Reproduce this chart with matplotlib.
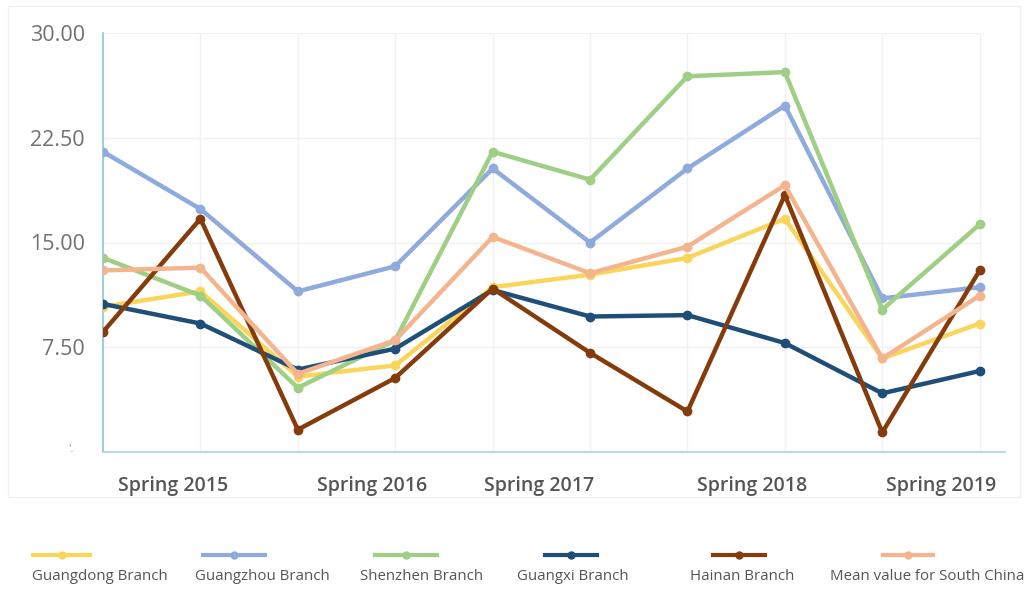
import matplotlib
matplotlib.use("Agg")
import matplotlib.pyplot as plt
from matplotlib.lines import Line2D
from matplotlib.patches import Rectangle

periods = list(range(10))
tick_positions = [0.72, 2.76, 4.48, 6.66, 8.6]
tick_labels = ["Spring 2015", "Spring 2016", "Spring 2017", "Spring 2018", "Spring 2019"]
y_ticks = [7.5, 15.0, 22.5, 30.0]

guangdong = [10.4, 11.5, 5.4, 6.2, 11.8, 12.7, 13.9, 16.7, 6.7, 9.2]
guangzhou = [21.5, 17.4, 11.5, 13.3, 20.3, 15.0, 20.3, 24.8, 11.0, 11.8]
shenzhen = [13.9, 11.2, 4.6, 8.0, 21.5, 19.5, 26.9, 27.2, 10.2, 16.3]
guangxi = [10.6, 9.2, 5.9, 7.4, 11.6, 9.7, 9.8, 7.8, 4.2, 5.8]
hainan = [8.6, 16.7, 1.6, 5.3, 11.7, 7.1, 2.9, 18.4, 1.4, 13.0]
mean_south = [13.0, 13.2, 5.6, 8.0, 15.4, 12.8, 14.7, 19.1, 6.7, 11.2]

series = [
    ("Guangdong Branch", guangdong, "#FAD55C"),
    ("Guangzhou Branch", guangzhou, "#8FAADC"),
    ("Shenzhen Branch", shenzhen, "#9ECF84"),
    ("Guangxi Branch", guangxi, "#1F4E79"),
    ("Hainan Branch", hainan, "#843C0C"),
    ("Mean value for South China", mean_south, "#F4B58E"),
]

plt.rcParams["font.family"] = ["Open Sans", "DejaVu Sans"]

fig = plt.figure(figsize=(10.25, 5.9), dpi=100)
fig.patches.append(Rectangle((8 / 1025, 1 - 497 / 590), 1012 / 1025, 491 / 590,
                             transform=fig.transFigure, fill=False,
                             edgecolor="#F0F0F0", linewidth=1.0))

ax = fig.add_axes([103 / 1025, 1 - 452 / 590, 902 / 1025, 419 / 590])
ax.set_xlim(0, 9.26)
ax.set_ylim(0, 30)

# light grid
ax.vlines(periods, 0, 30, color="#F1F1F1", linewidth=1.0, zorder=0)
ax.hlines(y_ticks, 0, periods[-1], color="#F1F1F1", linewidth=1.0, zorder=0)

for name, vals, col in series:
    ax.plot(periods, vals, color=col, linewidth=3.2, marker="o", markersize=6,
            solid_capstyle="round", solid_joinstyle="round", zorder=3)

for s in ["top", "right"]:
    ax.spines[s].set_visible(False)
ax.spines["left"].set_color("#8CC9D6")
ax.spines["bottom"].set_color("#B5DCE3")
ax.spines["left"].set_linewidth(1.2)
ax.spines["bottom"].set_linewidth(1.5)

ax.set_yticks(y_ticks)
ax.set_yticklabels([f"{v:.2f}" for v in y_ticks], fontsize=15.5, color="#707070")
ax.tick_params(axis="y", length=0, pad=13)
ax.set_xticks(tick_positions)
ax.set_xticklabels(tick_labels, fontsize=14, color="#555555", fontweight="semibold")
ax.tick_params(axis="x", length=0, pad=17)
ax.text(-0.3, 0.2, "'.", fontsize=8, color="#999999", ha="right", va="center")

# legend row
legend_lines = [(33, 90), (203, 265), (375, 437), (545, 597), (713, 765), (883, 933)]
legend_text_x = [32, 195, 360, 517, 690, 830]
for (x0, x1), tx, (name, vals, col) in zip(legend_lines, legend_text_x, series):
    y = 1 - 555 / 590
    fig.add_artist(Line2D([x0 / 1025, x1 / 1025], [y, y], color=col, linewidth=3.0,
                          transform=fig.transFigure))
    fig.add_artist(Line2D([(x0 + x1) / 2050], [y], color=col, marker="o", markersize=5,
                          transform=fig.transFigure))
    fig.text(tx / 1025, 1 - 577 / 590, name, fontsize=10.8, color="#555555",
             ha="left", va="center")

fig.savefig("out.png", dpi=100)
